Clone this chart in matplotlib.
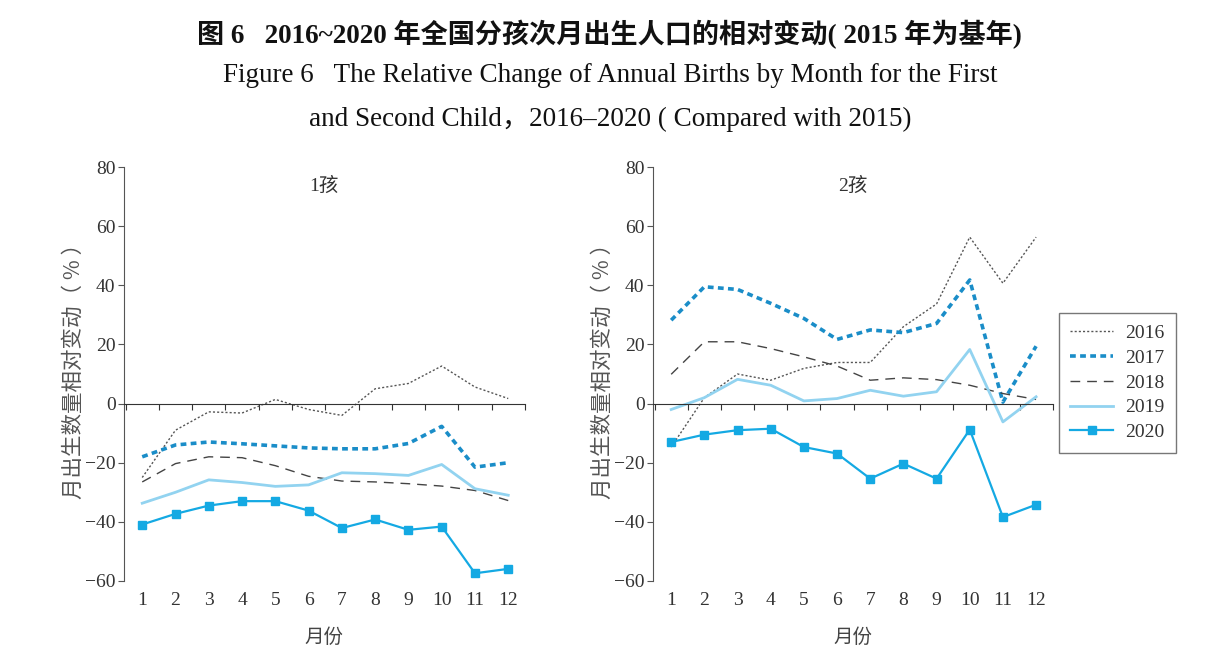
import matplotlib
matplotlib.use("Agg")
import matplotlib.pyplot as plt
import numpy as np

plt.rcParams["font.family"] = ["Liberation Serif", "Noto Sans CJK SC"]

months = list(range(1, 13))
years = ["2016", "2017", "2018", "2019", "2020"]

# 1孩
first_2016 = [-25, -9, -2.8, -3.2, 1.4, -2, -4, 5, 6.8, 12.7, 5.6, 1.7]
first_2017 = [-18, -14, -13, -13.6, -14.3, -15, -15.3, -15.3, -13.5, -7.7, -21.5, -20]
first_2018 = [-26.5, -20.3, -18, -18.3, -21, -24.6, -26.2, -26.5, -27.1, -27.9, -29.4, -32.8]
first_2019 = [-33.7, -30, -25.8, -26.7, -28, -27.5, -23.4, -23.7, -24.3, -20.6, -28.8, -31]
first_2020 = [-40.9, -37.3, -34.5, -33, -33, -36.2, -42.1, -39.2, -42.7, -41.6, -57.4, -55.9]

# 2孩
second_2016 = [-14.7, 2, 10, 7.9, 11.9, 13.9, 13.9, 26, 33.7, 56.3, 40.7, 56.3]
second_2017 = [28.2, 39.5, 38.6, 33.9, 28.8, 21.7, 24.9, 24, 27.1, 41.8, 0.5, 19.4]
second_2018 = [9.9, 20.9, 20.9, 18.6, 15.8, 12.7, 7.9, 8.7, 8.1, 6.2, 3.4, 1.4]
second_2019 = [-2, 2, 8.2, 6.2, 0.9, 1.7, 4.5, 2.5, 4, 18.3, -6.2, 2.3]
second_2020 = [-13, -10.5, -9, -8.5, -14.7, -16.9, -25.4, -20.3, -25.4, -8.8, -38.4, -34.2]

yticks = [-60, -40, -20, 0, 20, 40, 60, 80]

styles = {
    "2016": dict(color="#555555", lw=1.0, linestyle=(0, (1.5, 1.5))),
    "2017": dict(color="#1a8dc8", lw=2.6, linestyle=(0, (1.6, 1.2))),
    "2018": dict(color="#444444", lw=1.0, linestyle=(0, (7, 5))),
    "2019": dict(color="#92d3f0", lw=2.0, linestyle="-"),
    "2020": dict(color="#14a9e3", lw=1.6, linestyle="-", marker="s", markersize=6),
}

fig = plt.figure(figsize=(12.15, 6.55), dpi=100)

fig.text(0.502, 0.948, "图 6   2016~2020 年全国分孩次月出生人口的相对变动( 2015 年为基年)",
         ha="center", va="center", fontsize=19.5, fontweight="bold",
         family=["Liberation Serif", "Noto Sans CJK SC"], color="#111111")
fig.text(0.502, 0.884, "Figure 6   The Relative Change of Annual Births by Month for the First",
         ha="center", va="center", fontsize=19.5, color="#111111")
fig.text(0.502, 0.818, "and Second Child，2016–2020 ( Compared with 2015)",
         ha="center", va="center", fontsize=19.5, color="#111111")


def draw_panel(ax, series, title):
    for year, vals in zip(years, series):
        ax.plot(months, vals, label=year, **styles[year])
    ax.set_xlim(0.45, 12.5)
    ax.set_ylim(-60, 80)
    ax.set_yticks(yticks)
    ax.set_yticklabels([str(t).replace("-", "−") for t in yticks])
    for s in ("top", "right"):
        ax.spines[s].set_visible(False)
    ax.spines["left"].set_color("#555555")
    ax.spines["bottom"].set_position(("data", 0))
    ax.spines["bottom"].set_color("#333333")
    ax.set_xticks(np.arange(0.5, 13, 1))
    ax.set_xticklabels([])
    ax.tick_params(axis="x", direction="out", length=4, color="#333333")
    ax.tick_params(axis="y", direction="out", length=4, color="#555555",
                   labelsize=14, labelcolor="#333333", pad=2)
    sec = ax.secondary_xaxis(0)
    sec.set_xticks(months)
    sec.set_xticklabels([str(m) for m in months])
    sec.tick_params(length=0, labelsize=14, labelcolor="#333333", pad=8)
    sec.spines["bottom"].set_visible(False)
    ax.text(0.5, 0.955, title, transform=ax.transAxes, ha="center", va="center",
            fontsize=14, color="#333333", family=["Liberation Serif", "Noto Sans CJK SC"])
    ax.set_ylabel("月出生数量相对变动（ % ）", fontsize=15.5, color="#555555",
                  family=["Noto Sans CJK SC", "DejaVu Sans"], labelpad=1)
    ax.yaxis.set_label_coords(-0.097, 0.52)
    ax.set_xlabel("月份", fontsize=14, color="#444444",
                  family=["Noto Sans CJK SC", "DejaVu Sans"])
    ax.xaxis.set_label_coords(0.5, -0.11)


ax1 = fig.add_axes([0.102, 0.113, 0.330, 0.632])
draw_panel(ax1, [first_2016, first_2017, first_2018, first_2019, first_2020], "1孩")

ax2 = fig.add_axes([0.5374, 0.113, 0.329, 0.632])
draw_panel(ax2, [second_2016, second_2017, second_2018, second_2019, second_2020], "2孩")

leg = ax2.legend(loc="upper left", bbox_to_anchor=(1.015, 0.648), fontsize=14,
                 frameon=True, fancybox=False, edgecolor="#555555",
                 handlelength=2.2, labelspacing=0.37, borderpad=0.6, handletextpad=0.6,
                 borderaxespad=0)
leg.get_frame().set_linewidth(1.0)
for t in leg.get_texts():
    t.set_color("#333333")

fig.savefig("out.png", dpi=100)
